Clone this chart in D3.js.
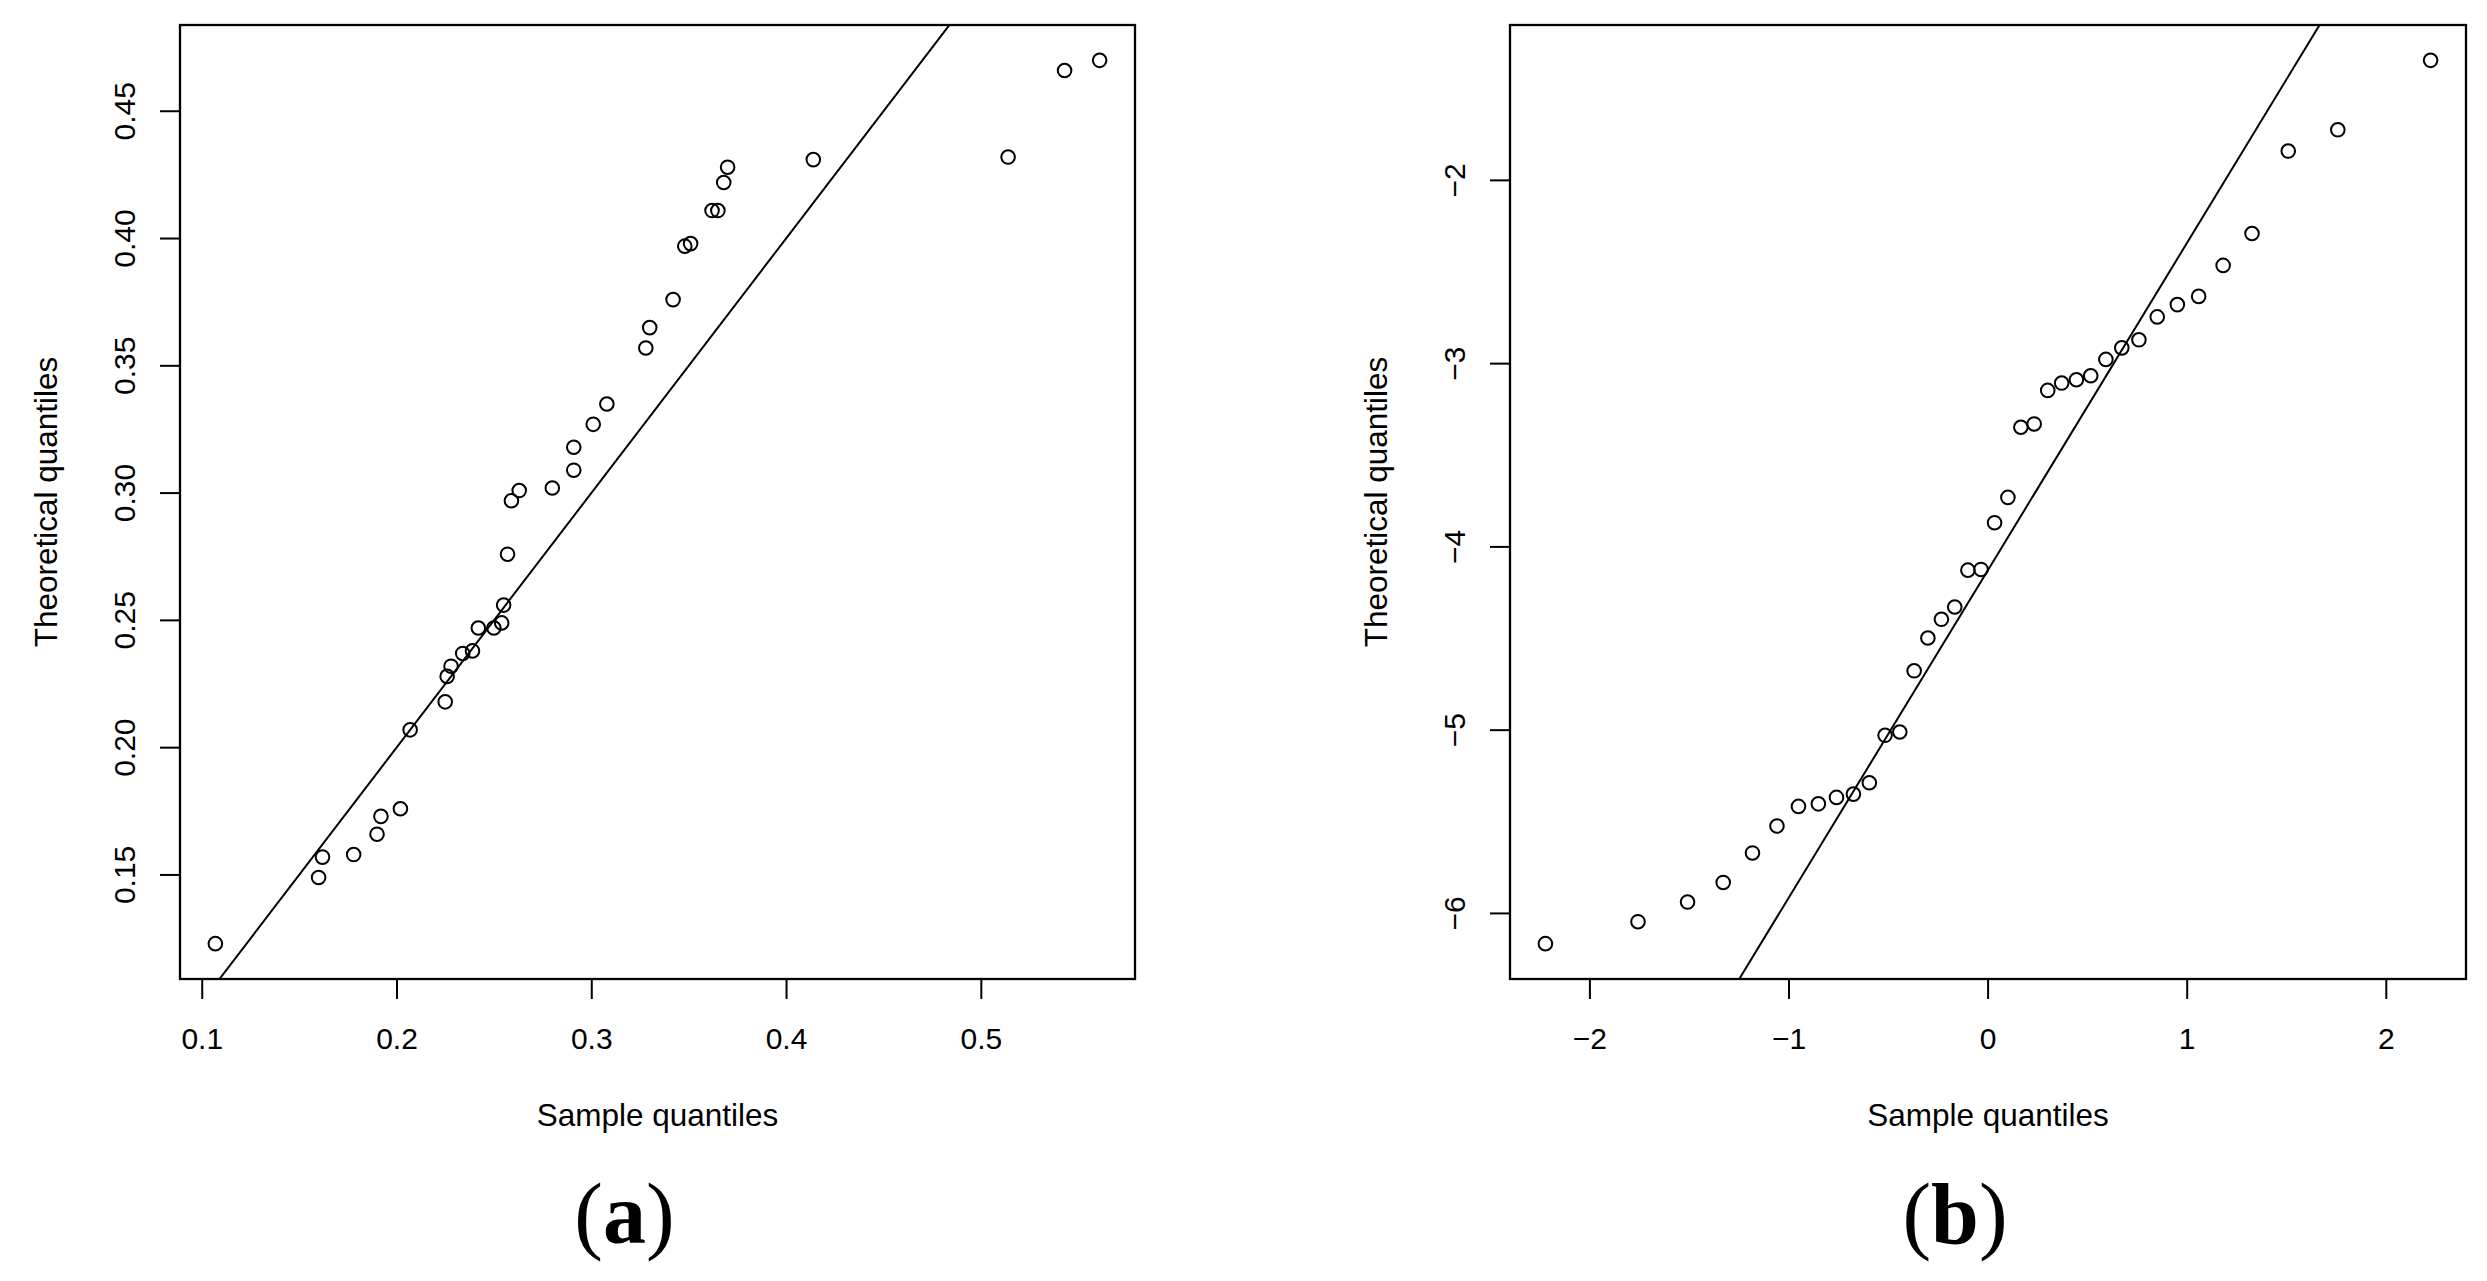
<!DOCTYPE html>
<html>
<head>
<meta charset="utf-8">
<script src="https://cdn.jsdelivr.net/npm/d3@7"></script>
<style>
  body { margin: 0; background: #fff; }
  text { fill: #000; }
</style>
</head>
<body>
<script>
// panel (a): sample vs theoretical quantiles
var sampleA = [0.107, 0.160, 0.162, 0.178, 0.190, 0.192, 0.202, 0.207, 0.225, 0.226,
               0.228, 0.234, 0.239, 0.242, 0.250, 0.254, 0.255, 0.257, 0.259, 0.263,
               0.280, 0.291, 0.291, 0.301, 0.308, 0.328, 0.330, 0.342, 0.348, 0.351,
               0.362, 0.365, 0.368, 0.370, 0.414, 0.514, 0.543, 0.561];
var theoA = [0.123, 0.149, 0.157, 0.158, 0.166, 0.173, 0.176, 0.207, 0.218, 0.228,
             0.232, 0.237, 0.238, 0.247, 0.247, 0.249, 0.256, 0.276, 0.297, 0.301,
             0.302, 0.309, 0.318, 0.327, 0.335, 0.357, 0.365, 0.376, 0.397, 0.398,
             0.411, 0.411, 0.422, 0.428, 0.431, 0.432, 0.466, 0.470];

// panel (b)
var sampleB = [-2.221, -1.756, -1.507, -1.328, -1.181, -1.058, -0.950, -0.850, -0.759, -0.674,
               -0.594, -0.515, -0.441, -0.369, -0.300, -0.232, -0.165, -0.099, -0.033, 0.035,
               0.102, 0.167, 0.234, 0.302, 0.372, 0.446, 0.518, 0.594, 0.674, 0.760,
               0.852, 0.953, 1.060, 1.183, 1.328, 1.510, 1.759, 2.225];
var theoB = [-6.165, -6.045, -5.938, -5.831, -5.670, -5.523, -5.416, -5.402, -5.367, -5.349,
             -5.287, -5.028, -5.010, -4.676, -4.497, -4.395, -4.328, -4.127, -4.123, -3.868,
             -3.730, -3.347, -3.329, -3.146, -3.106, -3.088, -3.066, -2.977, -2.914, -2.870,
             -2.745, -2.678, -2.633, -2.464, -2.290, -1.840, -1.724, -1.345];

var ticksAX = [0.1, 0.2, 0.3, 0.4, 0.5],
    ticksAY = [0.15, 0.20, 0.25, 0.30, 0.35, 0.40, 0.45],
    ticksBX = [-2, -1, 0, 1, 2],
    ticksBY = [-6, -5, -4, -3, -2];

var lineA = [0, 1],        // intercept, slope
    lineB = [-4.13, 1.786];

var svgWidth = 2487,
    svgHeight = 1281,
    boxTop = 25,
    boxBottom = 979,
    tickLen = 20;

var svg = d3.select("body")
            .append("svg")
                .attr("width", svgWidth)
                .attr("height", svgHeight)
                .style("display", "block");

svg.append("rect")
    .attr("width", svgWidth)
    .attr("height", svgHeight)
    .style("fill", "#fff");

// R style range: data extent plus 4% on each side
function padded(values) {
    var ext = d3.extent(values),
        pad = (ext[1] - ext[0]) * 0.04;
    return [ext[0] - pad, ext[1] + pad];
}

function drawPanel(id, left, right, xs, ys, xTicks, yTicks, xFormat, yFormat, abline, tag) {
    var x = d3.scaleLinear().domain(padded(xs)).range([left, right]),
        y = d3.scaleLinear().domain(padded(ys)).range([boxBottom, boxTop]);

    var g = svg.append("g").attr("id", "panel-" + id);

    g.append("clipPath").attr("id", "clip-" + id)
        .append("rect")
            .attr("x", left)
            .attr("y", boxTop)
            .attr("width", right - left)
            .attr("height", boxBottom - boxTop);

    // reference line
    var xd = x.domain();
    g.append("line")
        .attr("x1", x(xd[0]))
        .attr("y1", y(abline[0] + abline[1] * xd[0]))
        .attr("x2", x(xd[1]))
        .attr("y2", y(abline[0] + abline[1] * xd[1]))
        .attr("clip-path", "url(#clip-" + id + ")")
        .style("stroke", "#000")
        .style("stroke-width", 2);

    g.append("g")
        .selectAll("circle")
            .data(xs)
                .enter()
                    .append("circle")
                        .attr("cx", function(d) { return x(d); })
                        .attr("cy", function(d, i) { return y(ys[i]); })
                        .attr("r", 6.8)
                        .style("fill", "none")
                        .style("stroke", "#000")
                        .style("stroke-width", 2);

    // bottom axis
    g.append("g")
        .attr("transform", "translate(0," + boxBottom + ")")
        .call(d3.axisBottom(x).tickValues(xTicks).tickFormat(d3.format(xFormat))
                .tickSize(tickLen).tickPadding(29))
        .call(function(a) {
            a.select(".domain").remove();
            a.selectAll("line").style("stroke-width", 2);
            a.selectAll("text")
                .style("font-family", "'Liberation Sans', Arial, sans-serif")
                .style("font-size", "30px")
                .attr("dy", "0.71em");
        });

    // left axis, labels written upward like R
    var ya = g.append("g").attr("transform", "translate(" + left + ",0)");
    ya.selectAll("line")
        .data(yTicks)
            .enter()
                .append("line")
                    .attr("x1", -tickLen)
                    .attr("x2", 0)
                    .attr("y1", function(d) { return y(d); })
                    .attr("y2", function(d) { return y(d); })
                    .style("stroke", "#000")
                    .style("stroke-width", 2);
    ya.selectAll("text")
        .data(yTicks)
            .enter()
                .append("text")
                    .attr("transform", function(d) { return "translate(-45.5," + y(d) + ") rotate(-90)"; })
                    .attr("text-anchor", "middle")
                    .style("font-family", "'Liberation Sans', Arial, sans-serif")
                    .style("font-size", "30px")
                    .text(function(d) { return d3.format(yFormat)(d); });

    g.append("rect")
        .attr("x", left)
        .attr("y", boxTop)
        .attr("width", right - left)
        .attr("height", boxBottom - boxTop)
        .style("fill", "none")
        .style("stroke", "#000")
        .style("stroke-width", 2.3);

    g.append("text")
        .attr("x", (left + right) / 2)
        .attr("y", boxBottom + 147)
        .attr("text-anchor", "middle")
        .style("font-family", "'Liberation Sans', Arial, sans-serif")
        .style("font-size", "31.5px")
        .text("Sample quantiles");

    g.append("text")
        .attr("transform", "translate(" + (left - 123) + "," + (boxTop + boxBottom) / 2 + ") rotate(-90)")
        .attr("text-anchor", "middle")
        .style("font-family", "'Liberation Sans', Arial, sans-serif")
        .style("font-size", "31.5px")
        .text("Theoretical quantiles");

    var lab = g.append("text")
        .attr("x", (left + right) / 2 - 33)
        .attr("y", 1243)
        .attr("text-anchor", "middle")
        .style("font-family", "'Liberation Serif', 'Times New Roman', serif")
        .style("font-size", "86px");
    lab.append("tspan").text("(");
    lab.append("tspan").style("font-weight", "bold").text(tag);
    lab.append("tspan").text(")");
}

drawPanel("a", 180, 1135, sampleA, theoA, ticksAX, ticksAY, ".1f", ".2f", lineA, "a");
drawPanel("b", 1510, 2466, sampleB, theoB, ticksBX, ticksBY, "d", "d", lineB, "b");
</script>
</body>
</html>
